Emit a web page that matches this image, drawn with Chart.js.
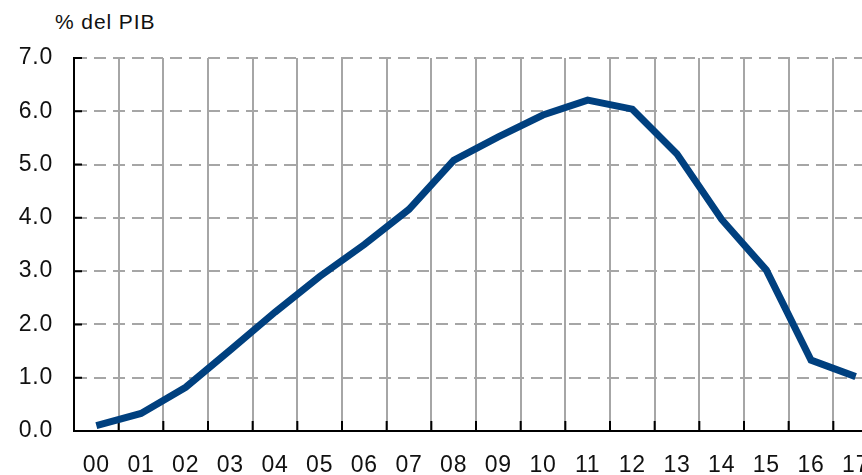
<!DOCTYPE html>
<html>
<head>
<meta charset="utf-8">
<script src="https://cdn.jsdelivr.net/npm/chart.js@4"></script>
<style>
    html, body { margin: 0; padding: 0; background: #fff; overflow: hidden; }
    .wrap { position: relative; width: 862px; height: 475px; overflow: hidden; }
    .unit {
        position: absolute; left: 55px; top: 9px;
        font: 21px "Liberation Sans", Arial, sans-serif;
        letter-spacing: 0.9px; color: #111; line-height: 25px;
    }
    canvas { position: absolute; left: 0; top: 0; }
</style>
</head>
<body>
<div class="wrap">
    <div class="unit">% del PIB</div>
    <canvas id="chart" width="878" height="475"></canvas>
</div>
<script>
// Data
const years = ['00', '01', '02', '03', '04', '05', '06', '07', '08', '09', '10', '11', '12', '13', '14', '15', '16', '17'];
const values = [0.1, 0.33, 0.82, 1.52, 2.23, 2.9, 3.5, 4.16, 5.08, 5.52, 5.93, 6.21, 6.04, 5.2, 3.97, 3.02, 1.33, 1.02];
const yTicks = [0, 1, 2, 3, 4, 5, 6, 7];

const FONT = '"Liberation Sans", Arial, sans-serif';

// small black tick marks drawn inside the plot area
const innerTicks = {
    id: 'innerTicks',
    beforeDatasetsDraw(chart) {
        const { ctx, chartArea, scales: { x, y } } = chart;
        ctx.save();
        ctx.strokeStyle = '#000';
        ctx.lineWidth = 2;
        ctx.beginPath();
        yTicks.forEach(v => {
            const py = y.getPixelForValue(v);
            ctx.moveTo(chartArea.left, py);
            ctx.lineTo(chartArea.left + 8, py);
        });
        const half = (x.getPixelForValue(1) - x.getPixelForValue(0)) / 2;
        years.forEach((_, i) => {
            const px = x.getPixelForValue(i) + half;
            ctx.moveTo(px, chartArea.bottom);
            ctx.lineTo(px, chartArea.bottom - 10);
        });
        ctx.stroke();
        ctx.restore();
    }
};

const spacing = {
    id: 'spacing',
    beforeUpdate(chart) { chart.ctx.letterSpacing = '0.8px'; },
    beforeDraw(chart) { chart.ctx.letterSpacing = '0.8px'; }
};

const ctx = document.getElementById('chart').getContext('2d');

new Chart(ctx, {
    type: 'line',
    data: {
        labels: years,
        datasets: [{
            data: values,
            borderColor: '#00407f',
            borderWidth: 7,
            borderJoinStyle: 'miter',
            pointRadius: 0,
            tension: 0,
            fill: false
        }]
    },
    options: {
        responsive: false,
        animation: false,
        devicePixelRatio: 1,
        layout: { padding: { top: 58, left: 0, right: 0, bottom: 0 } },
        plugins: {
            legend: { display: false },
            tooltip: { enabled: false }
        },
        scales: {
            x: {
                offset: true,
                grid: {
                    offset: true,
                    color: '#a6a6a6',
                    lineWidth: 2,
                    drawTicks: false
                },
                border: { display: true, color: '#000', width: 2 },
                ticks: {
                    color: '#111',
                    font: { family: FONT, size: 23 },
                    padding: 21,
                    maxRotation: 0,
                    autoSkip: false
                },
                afterFit(s) {
                    s.height = 44;
                    s.paddingLeft = 0;
                    s.paddingRight = 0;
                }
            },
            y: {
                min: 0,
                max: 7,
                afterBuildTicks(s) { s.ticks = yTicks.map(v => ({ value: v })); },
                grid: {
                    color: c => c.tick && c.tick.value === 0 ? 'rgba(0,0,0,0)' : '#a6a6a6',
                    lineWidth: 2,
                    drawTicks: false
                },
                border: { display: true, color: '#000', width: 2, dash: [12, 7] },
                ticks: {
                    color: '#111',
                    font: { family: FONT, size: 23 },
                    padding: 21,
                    callback: v => v.toFixed(1)
                },
                afterFit(s) { s.width = 74; }
            }
        }
    },
    plugins: [spacing, innerTicks]
});
</script>
</body>
</html>
